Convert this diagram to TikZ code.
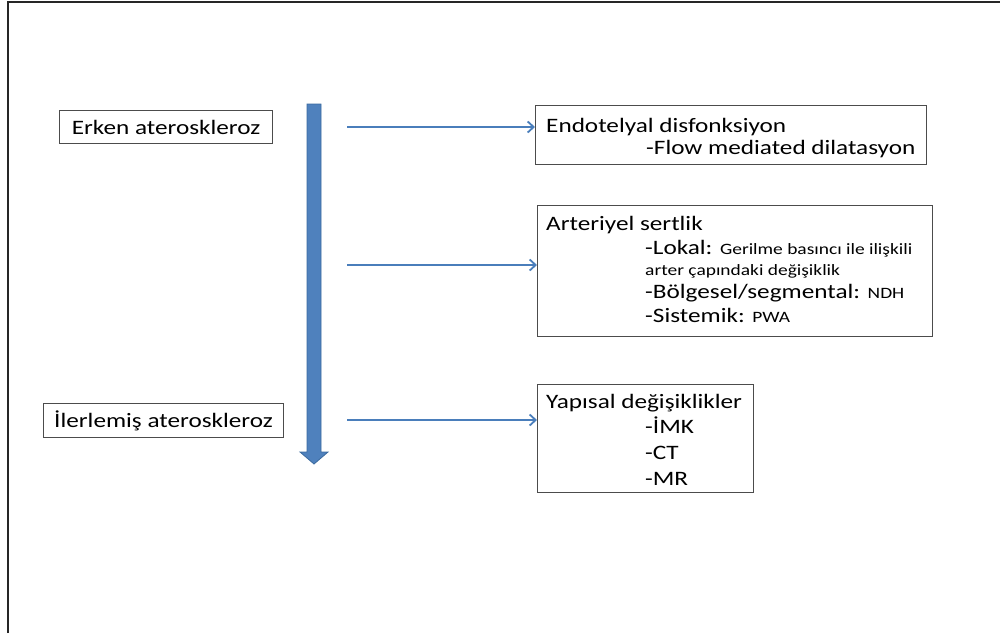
\documentclass[tikz,border=0pt]{standalone}
\usepackage{fontspec}
\setmainfont[FakeStretch=1.23]{Carlito}
\usetikzlibrary{arrows.meta}
\definecolor{blk}{HTML}{4F81BD}
\definecolor{blkedge}{HTML}{3A6A9F}
\definecolor{ln}{HTML}{4A7EBB}
\newcommand{\smtxt}{\fontsize{15.8}{18}\selectfont}
\begin{document}
\begin{tikzpicture}[x=1pt,y=-1pt,
  box/.style={draw=black!70, line width=1pt, anchor=north west, inner sep=0pt, font=\fontsize{20.5}{24}\selectfont},
  txt/.style={anchor=base west, inner sep=0pt, font=\fontsize{20.5}{24}\selectfont},
  small/.style={font=\smtxt},
  harrow/.style={draw=ln, line width=1.8pt, -{Straight Barb[length=6pt,width=11pt,line width=1.8pt]}}]
\useasboundingbox (0,0) rectangle (1000,633);
% frame
\draw[line width=1.5pt, black!85] (8,633) -- (8,2) -- (1000,2);
% left boxes
\node[box, minimum width=213pt, minimum height=33pt] (erken) at (59,110) {Erken ateroskleroz};
\node[box, minimum width=240pt, minimum height=34pt] (ilerlemis) at (43,403) {İlerlemiş ateroskleroz};
% right boxes
\node[box, minimum width=391pt, minimum height=59pt] (endo) at (535,105) {};
\node[box, minimum width=395pt, minimum height=131pt] (art) at (537,205) {};
\node[box, minimum width=216pt, minimum height=108pt] (yap) at (537,384) {};
% texts
\node[txt] (t1) at (546,132) {Endotelyal disfonksiyon};
\node[txt] (t2) at (646,154) {-Flow mediated dilatasyon};
\node[txt] (t3) at (546,230) {Arteriyel sertlik};
\node[txt] (t4) at (645,254) {-Lokal: {\smtxt Gerilme basıncı ile ilişkili}};
\node[txt, small] (t5) at (645,275) {arter çapındaki değişiklik};
\node[txt] (t6) at (645,298) {-Bölgesel/segmental: {\smtxt NDH}};
\node[txt] (t7) at (645,322) {-Sistemik: {\smtxt PWA}};
\node[txt] (t8) at (546,408) {Yapısal değişiklikler};
\node[txt] (t9) at (645,433) {-İMK};
\node[txt] (t10) at (645,459) {-CT};
\node[txt] (t11) at (645,485) {-MR};
% big down arrow
\draw[fill=blk, draw=blkedge, line width=0.8pt] (307,104) -- (321,104) -- (321,452) -- (328,452) -- (314,464) -- (300,452) -- (307,452) -- cycle;
% horizontal arrows
\coordinate (s1) at (347,127);
\coordinate (s2) at (347,265);
\coordinate (s3) at (347,420);
\draw[harrow] (s1) -- (s1 -| endo.west);
\draw[harrow] (s2) -- (s2 -| art.west);
\draw[harrow] (s3) -- (s3 -| yap.west);
\end{tikzpicture}
\end{document}
